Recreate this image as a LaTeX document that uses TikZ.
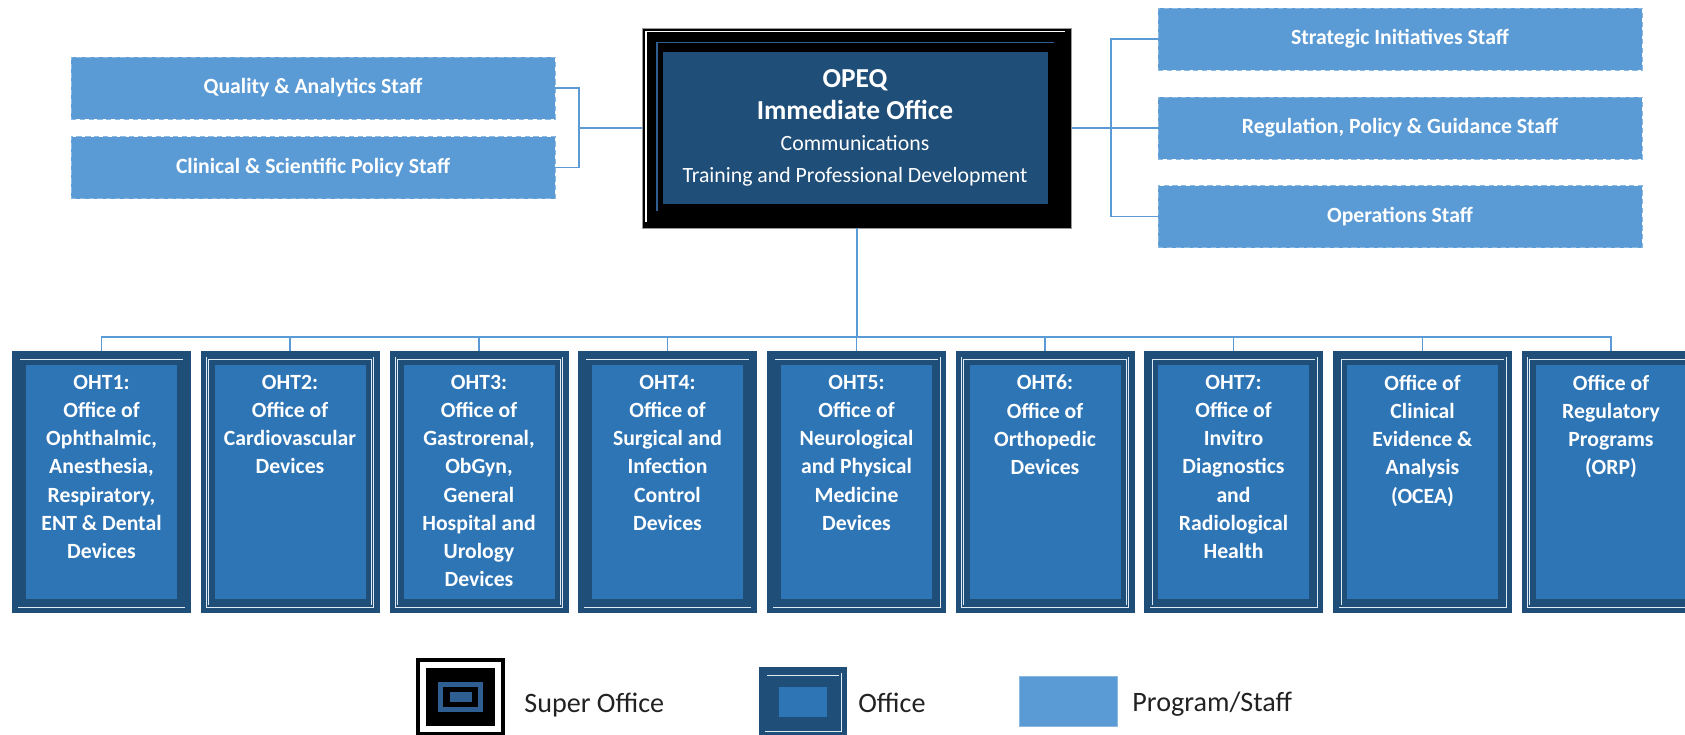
\documentclass[tikz,border=0pt]{standalone}
\usepackage{fontspec}
\setmainfont{Carlito}
\usepackage{tikz}
\usetikzlibrary{positioning,calc}
\definecolor{cstaff}{HTML}{5B9BD5}
\definecolor{cofc}{HTML}{2E75B6}
\definecolor{cofcdk}{HTML}{1F4E79}
\definecolor{csup}{HTML}{1F4E79}
\definecolor{csupln}{HTML}{2E5E92}
\definecolor{clink}{HTML}{5B9BD5}
\definecolor{clegtxt}{HTML}{222222}
\tikzset{
  staff/.style={rectangle, fill=cstaff, draw=white!30!cstaff, densely dashed, line width=0.4pt,
                minimum width=9.68cm, minimum height=1.24cm, inner sep=0pt,
                font=\fontsize{12.35}{15}\selectfont\bfseries, text=white},
  ofc/.style={rectangle, fill=cofcdk, inner sep=0pt,
              path picture={
                \fill[cofc] ([shift={(#1,#1)}]path picture bounding box.south west)
                  rectangle ([shift={(-#1,-#1)}]path picture bounding box.north east);
                \draw[white!85!cofc, line width=0.45pt, double=cofcdk, double distance=0.8pt]
                  ([shift={(0.14,0.14)}]path picture bounding box.south west)
                  rectangle ([shift={(-0.14,-0.14)}]path picture bounding box.north east);}},
  ofc/.default=0.28,
  oht/.style={ofc, minimum width=3.58cm, minimum height=5.24cm},
  ohtx/.style={align=center, inner sep=0pt, text=white,
               font=\fontsize{12.35}{16.05}\selectfont\bfseries},
  supbox/.style={rectangle, fill=black, draw=black!40, line width=0.4pt,
                 minimum width=8.58cm, minimum height=4.0cm, inner sep=0pt},
  supin/.style={rectangle, fill=csup, minimum width=7.7cm, minimum height=3.04cm,
                inner sep=0pt, align=center, text=white, font=\fontsize{12.4}{18}\selectfont},
  link/.style={draw=clink, line width=1.1pt},
  lgsup/.style={rectangle, fill=black, minimum width=1.78cm, minimum height=1.56cm, inner sep=0pt,
                path picture={
                  \fill[white] ([shift={(0.08,0.08)}]path picture bounding box.south west)
                    rectangle ([shift={(-0.08,-0.08)}]path picture bounding box.north east);
                  \fill[black] ([shift={(0.2,0.2)}]path picture bounding box.south west)
                    rectangle ([shift={(-0.2,-0.2)}]path picture bounding box.north east);
                  \fill[csupln] ($(path picture bounding box.center)+(-0.45,-0.3)$)
                    rectangle ($(path picture bounding box.center)+(0.45,0.3)$);
                  \fill[black] ($(path picture bounding box.center)+(-0.35,-0.2)$)
                    rectangle ($(path picture bounding box.center)+(0.35,0.2)$);
                  \fill[csupln] ($(path picture bounding box.center)+(-0.22,-0.1)$)
                    rectangle ($(path picture bounding box.center)+(0.22,0.1)$);}},
  lgstaff/.style={rectangle, fill=cstaff, draw=white!30!cstaff, line width=0.4pt,
                  minimum width=1.96cm, minimum height=1.0cm, inner sep=0pt},
  legtxt/.style={inner sep=0pt, text=clegtxt, font=\fontsize{16}{19}\selectfont}
}

\begin{document}
\begin{tikzpicture}
\useasboundingbox (0,0) rectangle (33.7,-14.68);

% staff left
\node[staff] (qas) at (6.26,-1.76) {Quality \& Analytics Staff};
\node[staff] (csp) at (6.26,-3.35) {Clinical \& Scientific Policy Staff};

% super office
\node[supbox] (opeq) at (17.14,-2.56) {};
\draw[white, line width=0.9pt] ($(opeq.south west)+(0.08,0.12)$) |- ($(opeq.north east)+(-0.14,-0.08)$);
\draw[csupln, line width=0.9pt] ($(opeq.south west)+(0.3,0.34)$) |- ($(opeq.north east)+(-0.36,-0.3)$);
\node[supin] (opeqin) at ($(opeq.center)+(-0.04,0)$)
 {{\fontsize{15.6}{18}\selectfont\bfseries OPEQ}\\
  {\fontsize{15.6}{18}\selectfont\bfseries Immediate Office}\\
  Communications\\
  Training and Professional Development};

% staff right
\node[staff] (sis) at (28.0,-0.78) {Strategic Initiatives Staff};
\node[staff] (rpg) at (28.0,-2.56) {Regulation, Policy \& Guidance Staff};
\node[staff] (ops) at (28.0,-4.33) {Operations Staff};

% offices
\node[oht] (o1) at (2.03,-9.64) {};
\node[oht] (o2) at (5.80,-9.64) {};
\node[oht] (o3) at (9.58,-9.64) {};
\node[oht] (o4) at (13.35,-9.64) {};
\node[oht] (o5) at (17.13,-9.64) {};
\node[oht] (o6) at (20.90,-9.64) {};
\node[oht] (o7) at (24.67,-9.64) {};
\node[oht] (o8) at (28.45,-9.64) {};
\node[oht] (o9) at (32.22,-9.64) {};

\node[ohtx, anchor=north] (o1x) at ($(o1.north)+(0,-0.48)$)
 {OHT1:\\Office of\\Ophthalmic,\\Anesthesia,\\Respiratory,\\ENT \& Dental\\Devices};
\node[ohtx, anchor=north] (o2x) at ($(o2.north)+(0,-0.48)$)
 {OHT2:\\Office of\\Cardiovascular\\Devices};
\node[ohtx, anchor=north] (o3x) at ($(o3.north)+(0,-0.48)$)
 {OHT3:\\Office of\\Gastrorenal,\\ObGyn,\\General\\Hospital and\\Urology\\Devices};
\node[ohtx, anchor=north] (o4x) at ($(o4.north)+(0,-0.48)$)
 {OHT4:\\Office of\\Surgical and\\Infection\\Control\\Devices};
\node[ohtx, anchor=north] (o5x) at ($(o5.north)+(0,-0.48)$)
 {OHT5:\\Office of\\Neurological\\and Physical\\Medicine\\Devices};
\node[ohtx, anchor=north] (o6x) at ($(o6.north)+(0,-0.48)$)
 {OHT6:\\Office of\\Orthopedic\\Devices};
\node[ohtx, anchor=north] (o7x) at ($(o7.north)+(0,-0.48)$)
 {OHT7:\\Office of\\Invitro\\Diagnostics\\and\\Radiological\\Health};
\node[ohtx, anchor=north] (o8x) at ($(o8.north)+(0,-0.48)$)
 {Office of\\Clinical\\Evidence \&\\Analysis\\(OCEA)};
\node[ohtx, anchor=north] (o9x) at ($(o9.north)+(0,-0.48)$)
 {Office of\\Regulatory\\Programs\\(ORP)};

% connectors
\coordinate (lj) at ($(opeq.west)+(-1.26,0)$);
\coordinate (rj) at ($(opeq.east)+(0.78,0)$);
\coordinate (bus) at ($(opeq.south)+(0,-2.18)$);
\draw[link] (qas.east) -| (lj) |- (csp.east);
\draw[link] (lj) -- (opeq.west);
\draw[link] (opeq.east) -- (rpg.west);
\draw[link] (sis.west) -| (rj) |- (ops.west);
\draw[link] (opeq.south) -- (bus);
\draw[link] (o1.north) |- (bus) -| (o9.north);
\draw[link] (o2.north) -- (o2.north |- bus) (o3.north) -- (o3.north |- bus)
            (o4.north) -- (o4.north |- bus) (o5.north) -- (o5.north |- bus)
            (o6.north) -- (o6.north |- bus) (o7.north) -- (o7.north |- bus)
            (o8.north) -- (o8.north |- bus);

% legend
\node[lgsup] (lgs) at (9.21,-13.94) {};
\node[legtxt, anchor=base west] (lgst) at (10.48,-14.24) {Super Office};
\node[ofc=0.4, minimum width=1.76cm, minimum height=1.4cm] (lgo) at (16.06,-14.04) {};
\node[legtxt, anchor=base west] (lgot) at (17.16,-14.24) {Office};
\node[lgstaff] (lgp) at (21.36,-14.02) {};
\node[legtxt, anchor=base west] (lgpt) at (22.64,-14.22) {Program/Staff};

\end{tikzpicture}
\end{document}
